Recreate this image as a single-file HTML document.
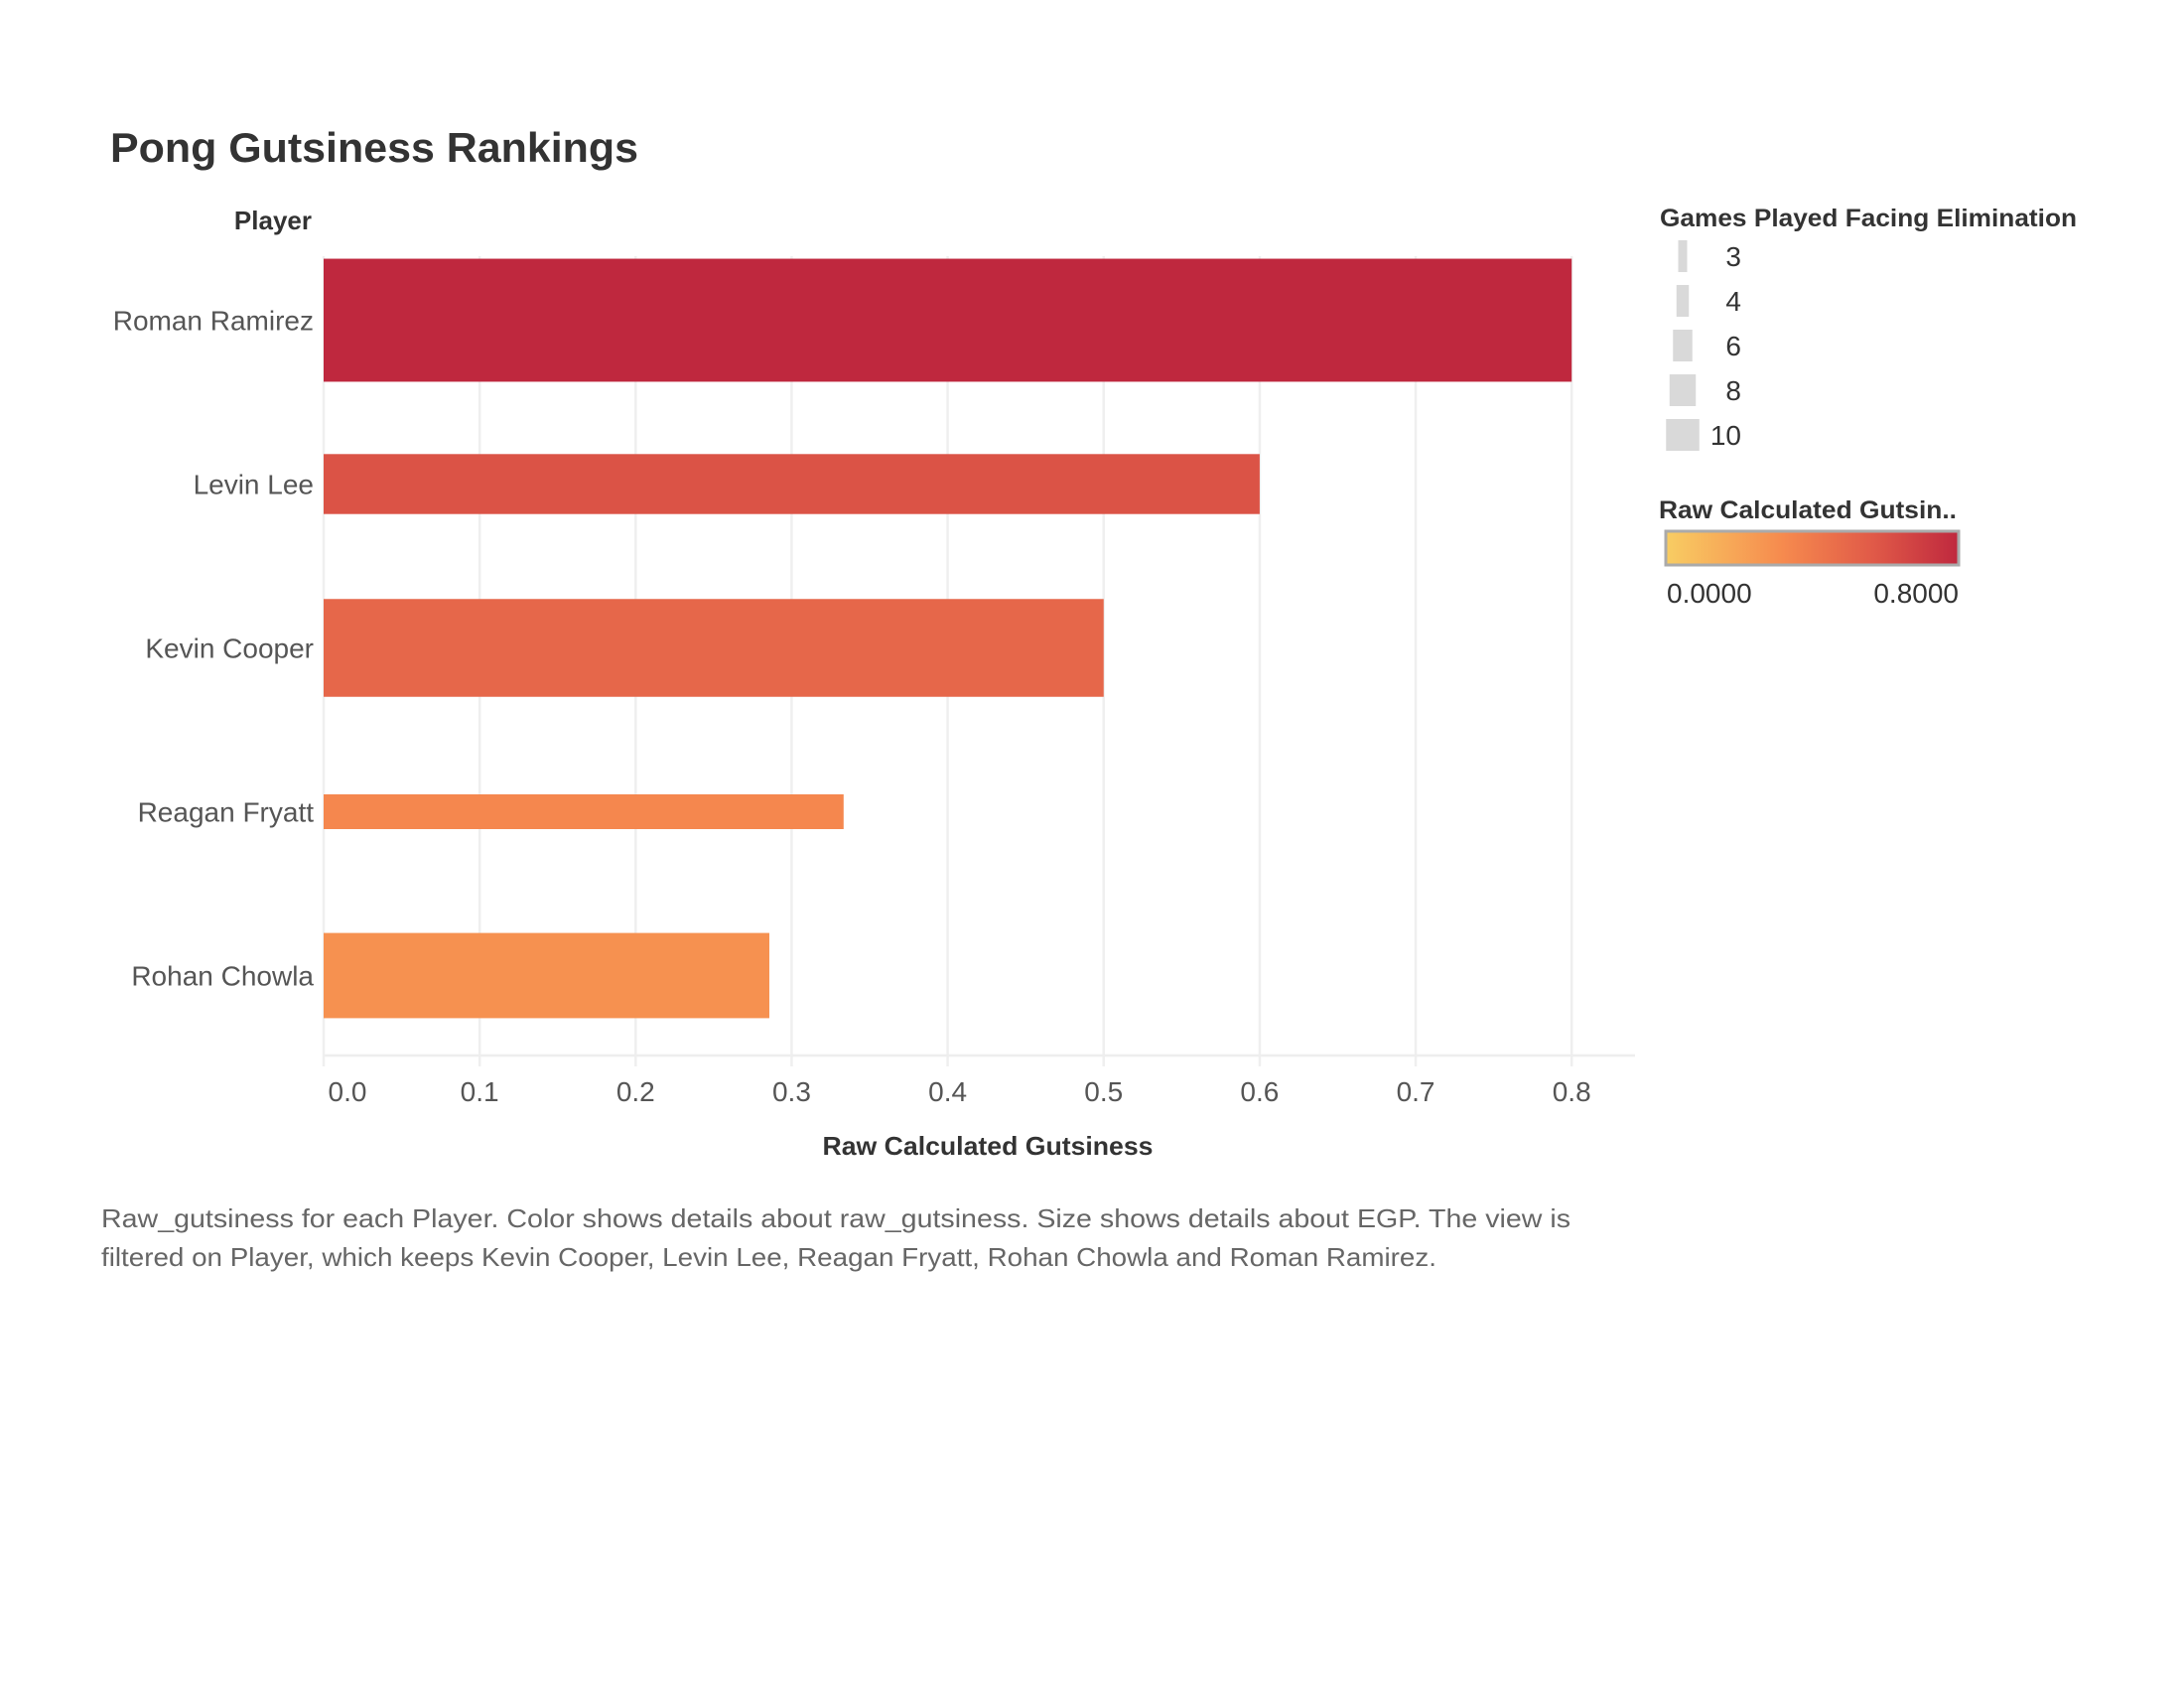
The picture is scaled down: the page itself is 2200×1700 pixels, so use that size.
<!DOCTYPE html>
<html><head><meta charset="utf-8"><style>
html,body{margin:0;padding:0;background:#fff;}
svg{display:block;font-family:"Liberation Sans",sans-serif;}
</style></head><body>
<svg id="chart" width="2200" height="1700" viewBox="0 0 2200 1700">
<text x="111" y="163" font-size="42" font-weight="bold" fill="#333" textLength="532" lengthAdjust="spacingAndGlyphs">Pong Gutsiness Rankings</text>
<text x="314" y="231" font-size="26" font-weight="bold" fill="#333" text-anchor="end">Player</text>
<g id="grid"></g>
<g id="bars"></g>
<g id="ylabels"></g>
<g id="xticks"></g>
<text x="995" y="1163" font-size="26" font-weight="bold" fill="#333" text-anchor="middle" textLength="333" lengthAdjust="spacingAndGlyphs">Raw Calculated Gutsiness</text>
<text x="102" y="1236" font-size="26" fill="#666" textLength="1480" lengthAdjust="spacingAndGlyphs">Raw_gutsiness for each Player.  Color shows details about raw_gutsiness.  Size shows details about EGP. The view is</text>
<text x="102" y="1275" font-size="26" fill="#666" textLength="1345" lengthAdjust="spacingAndGlyphs">filtered on Player, which keeps Kevin Cooper, Levin Lee, Reagan Fryatt, Rohan Chowla and Roman Ramirez.</text>
<text x="1672" y="228" font-size="25" font-weight="bold" fill="#333" textLength="420" lengthAdjust="spacingAndGlyphs">Games Played Facing Elimination</text>
<g id="sizelegend"></g>
<text x="1671" y="522" font-size="25" font-weight="bold" fill="#333" textLength="300" lengthAdjust="spacingAndGlyphs">Raw Calculated Gutsin..</text>
<defs>
<linearGradient id="cgh" x1="0" x2="1" y1="0" y2="0">
<stop offset="0" stop-color="#f8cd63"/><stop offset="0.4" stop-color="#f68a4e"/><stop offset="0.7" stop-color="#e15b48"/><stop offset="1" stop-color="#bf283e"/></linearGradient></defs>
<rect x="1678" y="535" width="295" height="34" fill="url(#cgh)" stroke="#aaa" stroke-width="3"/>
<text x="1679" y="607" font-size="28" fill="#333">0.0000</text>
<text x="1973" y="607" font-size="28" fill="#333" text-anchor="end">0.8000</text>
</svg>
<script>
const players = ["Roman Ramirez","Levin Lee","Kevin Cooper","Reagan Fryatt","Rohan Chowla"];
const gutsiness = [0.8, 0.6, 0.5, 0.3333, 0.2857];
const egp = [10, 5, 8, 3, 7];
const xTicks = [0,0.1,0.2,0.3,0.4,0.5,0.6,0.7,0.8];
const xTickLabels = ["0.0","0.1","0.2","0.3","0.4","0.5","0.6","0.7","0.8"];
const sizeLegendValues = [3,4,6,8,10];

const NS="http://www.w3.org/2000/svg";
const X0=326, XU=1571.5, TOP=240, BAND=165, AXY=1063;
function xs(v){return X0+v*XU;}
function yc(i){return TOP+BAND*(i+0.5);}
function bh(n){return 12.7*n-3.1;}
function lerp(a,b,t){return a+(b-a)*t;}
const stops=[[0,[248,205,99]],[0.4,[246,138,78]],[0.7,[225,91,72]],[1,[191,40,62]]];
function color(v){let t=Math.max(0,Math.min(1,v/0.8));for(let i=0;i<stops.length-1;i++){const a=stops[i],b=stops[i+1];if(t<=b[0]){const u=(t-a[0])/(b[0]-a[0]);return "rgb("+a[1].map((c,k)=>Math.round(lerp(c,b[1][k],u))).join(",")+")";}}return "rgb(191,40,62)";}
function mk(tag,attrs,parent){const e=document.createElementNS(NS,tag);for(const k in attrs)e.setAttribute(k,attrs[k]);parent.appendChild(e);return e;}

const grid=document.getElementById("grid");
xTicks.forEach((t,i)=>{
  const l=mk("line",{x1:xs(t),x2:xs(t),y1:258,y2:AXY+11,stroke:"#efefef","stroke-width":2.5},grid);
  
  
});
const ax=mk("line",{x1:X0,x2:1647,y1:AXY,y2:AXY,stroke:"#eeeeee","stroke-width":2.5},grid);



const bars=document.getElementById("bars"), yl=document.getElementById("ylabels");
players.forEach((p,i)=>{
  const h=bh(egp[i]);
  const r=mk("rect",{x:X0,y:yc(i)-h/2,width:xs(gutsiness[i])-X0,height:h,fill:color(gutsiness[i])},bars);
  
  
  const t=mk("text",{x:316,y:yc(i)+10,"font-size":28,fill:"#555","text-anchor":"end"},yl);
  t.textContent=p;
  
  
});
const xt=document.getElementById("xticks");
xTicks.forEach((t,i)=>{
  const e=mk("text",{x:i===0?xs(t)+24:xs(t),y:1109,"font-size":28,fill:"#555","text-anchor":"middle"},xt);
  e.textContent=xTickLabels[i];
  
  
});
const sl=document.getElementById("sizelegend");
sizeLegendValues.forEach((v,i)=>{
  const cy=258+i*45, w=3.5*v-1.5;
  const r=mk("rect",{x:1695-w/2,y:cy-16,width:w,height:32,fill:"#d9d9d9"},sl);
  
  
  const t=mk("text",{x:1754,y:cy+10,"font-size":28,fill:"#333","text-anchor":"end"},sl);
  t.textContent=v;
  
  
});
</script>
</body></html>
